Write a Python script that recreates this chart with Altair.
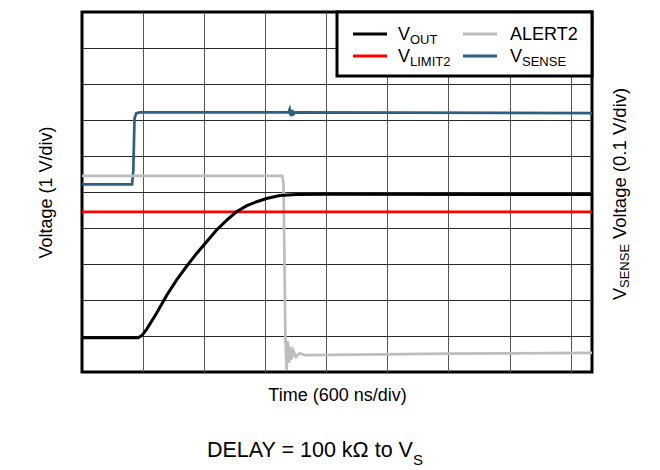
import altair as alt
import pandas as pd

# ---- data (x in time divisions, y in voltage divisions) ----
vout_t = [0, 0.92, 0.98, 1.06, 1.22, 1.39, 1.55, 1.71, 1.88, 2.04, 2.20, 2.37, 2.53, 2.70, 2.86, 3.02, 3.24, 3.51, 4.00, 8.35]
vout_v = [0.95, 0.95, 1.01, 1.19, 1.63, 2.14, 2.56, 2.93, 3.30, 3.62, 3.94, 4.22, 4.45, 4.62, 4.73, 4.82, 4.90, 4.93, 4.94, 4.93]

vlimit_t = [0, 8.35]
vlimit_v = [4.45, 4.45]

vsense_t = [0, 0.82, 0.84, 0.86, 0.89, 0.95, 3.38, 3.40, 3.42, 3.44, 3.46, 3.49, 8.35]
vsense_v = [5.21, 5.21, 5.60, 7.05, 7.19, 7.21, 7.21, 7.30, 7.11, 7.28, 7.16, 7.21, 7.19]

alert_t = [0, 3.28, 3.30, 3.33, 3.35, 3.37, 3.39, 3.41, 3.43, 3.46, 3.50, 3.56, 3.65, 4.50, 6.00, 8.35]
alert_v = [5.45, 5.45, 5.20, 1.00, 0.06, 0.85, 0.25, 0.70, 0.35, 0.60, 0.42, 0.52, 0.47, 0.48, 0.51, 0.53]

x_grid = [1, 2, 3, 4, 5, 6, 7, 8]
y_grid = [1, 2, 3, 4, 5, 6, 7, 8, 9]

legend_main = ["V", "ALERT2", "V", "V"]
legend_sub = ["OUT", "", "LIMIT2", "SENSE"]
legend_col = [0, 1, 0, 1]
legend_row = [0, 0, 1, 1]

C_VOUT = "#000000"
C_ALERT = "#bdbdbd"
C_LIMIT = "#ff0000"
C_SENSE = "#2e5f7f"
legend_colors = [C_VOUT, C_ALERT, C_LIMIT, C_SENSE]

FONT = "Liberation Sans"
W, H = 510, 360
XMAX, YMAX = 8.35, 10

xs = alt.Scale(domain=[0, XMAX], nice=False, zero=False)
ys = alt.Scale(domain=[0, YMAX], nice=False, zero=False)


def sdf(t, v):
    return pd.DataFrame({"t": t, "v": v, "i": list(range(len(t)))})


xaxis = alt.Axis(values=x_grid, grid=True, gridColor="#555555", gridWidth=1,
                 labels=False, ticks=False, domain=False,
                 title="Time (600 ns/div)", titleFont=FONT, titleFontSize=18,
                 titleFontWeight="normal", titleColor="#000000", titlePadding=14)
yaxis = alt.Axis(values=y_grid, grid=True, gridColor="#2a2a2a", gridWidth=1,
                 labels=False, ticks=False, domain=False,
                 title="Voltage (1 V/div)", titleFont=FONT, titleFontSize=18,
                 titleFontWeight="normal", titleColor="#000000", titlePadding=27)


def line(t, v, color, width):
    return alt.Chart(sdf(t, v)).mark_line(color=color, strokeWidth=width, clip=True).encode(
        x=alt.X("t:Q", scale=xs, axis=xaxis),
        y=alt.Y("v:Q", scale=ys, axis=yaxis),
        order="i:Q",
    )


layers = [
    line(vsense_t, vsense_v, C_SENSE, 2.7),
    line(alert_t, alert_v, C_ALERT, 2.7),
    line(vlimit_t, vlimit_v, C_LIMIT, 2.7),
    line(vout_t, vout_v, C_VOUT, 3),
]

one = pd.DataFrame({"a": [0]})


def txt(s, x, y, size, angle=0, align="left", baseline="alphabetic"):
    return alt.Chart(one).mark_text(font=FONT, fontSize=size, color="#000000",
                                    align=align, baseline=baseline, angle=angle).encode(
        x=alt.value(x), y=alt.value(y), text=alt.value(s))


# legend box
layers.append(alt.Chart(one).mark_rect(fill="white", stroke="black", strokeWidth=3).encode(
    x=alt.value(255), x2=alt.value(510), y=alt.value(0), y2=alt.value(64)))

col_line_x = [271, 381]
col_text_x = [316, 428]
row_line_y = [22, 44]
row_base_y = [27.5, 49.5]
for m, sub, c, r, colr in zip(legend_main, legend_sub, legend_col, legend_row, legend_colors):
    layers.append(alt.Chart(one).mark_rule(color=colr, strokeWidth=3).encode(
        x=alt.value(col_line_x[c]), x2=alt.value(col_line_x[c] + 34),
        y=alt.value(row_line_y[r])))
    layers.append(txt(m, col_text_x[c], row_base_y[r], 18))
    if sub:
        layers.append(txt(sub, col_text_x[c] + 12, row_base_y[r] + 4, 13))

# right axis title  (V_SENSE Voltage (0.1 V/div)), rotated
rx = 544
layers.append(txt("V", rx, 288, 18, angle=270))
layers.append(txt("SENSE", rx + 3, 276, 13, angle=270))
layers.append(txt("Voltage (0.1 V/div)", rx, 227, 18.5, angle=270))

# bottom caption
layers.append(txt("DELAY = 100 k\u03a9 to V", 125, 445, 21.5))
layers.append(txt("S", 331, 453, 15))

chart = alt.layer(*layers).properties(
    width=W, height=H,
    autosize=alt.AutoSizeParams(type="none"),
    padding={"left": 74, "top": 4, "right": 50, "bottom": 98},
    background="white",
).configure_view(stroke="black", strokeWidth=3)

chart.save("out.html", embed_options={"renderer": "svg", "actions": False})
